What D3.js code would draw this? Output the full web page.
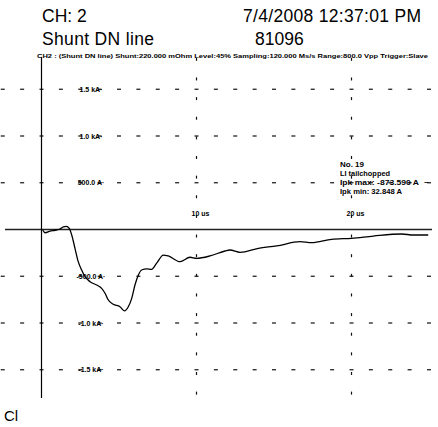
<!DOCTYPE html>
<html lang="en">
<head>
  <meta charset="UTF-8">
  <title>CH 2 Shunt DN line</title>
  <script src="https://cdn.jsdelivr.net/npm/d3@7/dist/d3.min.js"></script>
  <style>
    body { margin: 0; background: #fff; }
    svg { display: block; background: #fff; }
    .big { font-family: "Liberation Sans", Arial, sans-serif; fill: #000; }
    .small { font-family: "Liberation Sans Narrow", "Liberation Sans", Arial, sans-serif; font-weight: bold; fill: #000; }
  </style>
</head>
<body>
<div class="chart"></div>
<script>
  // trace: time in us, current in kA
  const timeUs = [0.08, 0.23, 0.55, 0.87, 1.19, 1.41, 1.6, 1.79, 1.95, 2.16, 2.37, 2.59, 2.81, 3.13, 3.56, 3.88,
    4.10, 4.31, 4.63, 5.06, 5.35, 5.6, 5.82, 6.03, 6.25, 6.46, 6.79, 7.1, 7.43, 7.86, 8.18, 8.94, 9.58, 10.0,
    10.87, 11.84, 12.16, 12.81, 13.99, 15.17, 16.68, 17.43, 18.72, 20.01, 21.41, 23.24, 23.99, 24.95];
  const currentKA = [-0.005, -0.035, -0.018, -0.008, 0.005, 0.028, 0.033, 0.013, -0.059, -0.201, -0.344, -0.433,
    -0.505, -0.558, -0.594, -0.629, -0.682, -0.754, -0.800, -0.826, -0.870, -0.826, -0.736, -0.594, -0.487,
    -0.433, -0.422, -0.426, -0.360, -0.273, -0.283, -0.344, -0.297, -0.308, -0.283, -0.230, -0.219, -0.244,
    -0.201, -0.176, -0.130, -0.141, -0.105, -0.094, -0.070, -0.048, -0.059, -0.059];

  const yTickValues = [1.5, 1.0, 0.5, -0.5, -1.0, -1.5];
  const yTickLabels = ['1.5 kA\u00b7', '1.0 kA\u00b7', '500.0 A\u00b7', '-500.0 A\u00b7', '-1.0 kA\u00b7', '-1.5 kA\u00b7'];
  const xTickValues = [10, 20];
  const xTickLabels = ['10 us', '20 us'];

  const infoLines = ['No. 19', 'LI tailchopped', 'Ipk max: -873.590 A', 'Ipk min:  32.848 A'];
  const infoWidths = [24, 50, 79, 62];

  let chart = {size: {w: 438, h: 427}};

  let x = d3.scaleLinear().domain([0, 20]).range([41.5, 351.5]);
  let y = d3.scaleLinear().domain([0, 1]).range([229.5, 136]);

  let svg = d3.select('.chart').append('svg')
    .attr('width', chart.size.w)
    .attr('height', chart.size.h);

  // header
  svg.append('text').attr('class', 'big').attr('x', 42).attr('y', 22).style('font-size', '17.5px').text('CH: 2');
  svg.append('text').attr('class', 'big').attr('x', 42).attr('y', 45).style('font-size', '17.5px')
    .attr('textLength', 112).text('Shunt DN line');
  svg.append('text').attr('class', 'big').attr('x', 243).attr('y', 22).style('font-size', '17.5px')
    .attr('textLength', 178).text('7/4/2008 12:37:01 PM');
  svg.append('text').attr('class', 'big').attr('x', 255).attr('y', 45).style('font-size', '17.5px').text('81096');
  svg.append('text').attr('class', 'small').attr('x', 37).attr('y', 58).style('font-size', '6px')
    .attr('textLength', 391).attr('lengthAdjust', 'spacingAndGlyphs')
    .text('CH2 : (Shunt DN line)  Shunt:220.000 mOhm  Level:45%  Sampling:120.000 Ms/s  Range:800.0 Vpp  Trigger:Slave');

  // dashed horizontal grid
  let dashT = d3.range(-2.5, 25.1, 1.25);
  yTickValues.forEach(v => {
    svg.append('g').selectAll('line').data(dashT).enter().append('line')
      .attr('x1', d => x(d) - 2).attr('x2', d => x(d) + 2)
      .attr('y1', y(v)).attr('y2', y(v))
      .attr('stroke', '#111').attr('stroke-width', 1.2);
  });

  // dashed vertical grid
  let dashI = d3.range(-1.75, 1.85, 0.21);
  xTickValues.forEach(t => {
    svg.append('g').selectAll('line').data(dashI).enter().append('line')
      .attr('x1', x(t)).attr('x2', x(t))
      .attr('y1', d => y(d) - 1.5).attr('y2', d => y(d) + 1.5)
      .attr('stroke', '#111').attr('stroke-width', 1.2);
  });

  // zero line + vertical axis
  svg.append('line').attr('x1', 5).attr('x2', 432).attr('y1', y(0)).attr('y2', y(0))
    .attr('stroke', '#222').attr('stroke-width', 1.7);
  svg.append('line').attr('x1', x(0)).attr('x2', x(0)).attr('y1', 57).attr('y2', 398)
    .attr('stroke', '#000').attr('stroke-width', 1.2);

  // tick labels
  svg.append('g').selectAll('text').data(yTickValues).enter().append('text')
    .attr('class', 'small').style('font-size', '7px')
    .attr('text-anchor', 'middle')
    .attr('x', 91).attr('y', d => y(d) + 2.5)
    .text((d, i) => yTickLabels[i]);
  svg.append('g').selectAll('text').data(xTickValues).enter().append('text')
    .attr('class', 'small').style('font-size', '7px')
    .attr('text-anchor', 'middle')
    .attr('x', d => x(d) + 4).attr('y', 216)
    .text((d, i) => xTickLabels[i]);

  // annotation block
  svg.append('g').selectAll('text').data(infoLines).enter().append('text')
    .attr('class', 'small').style('font-size', '7.5px')
    .attr('x', 340).attr('y', (d, i) => 167 + i * 9)
    .attr('textLength', (d, i) => infoWidths[i]).attr('lengthAdjust', 'spacingAndGlyphs')
    .text(d => d);
  svg.append('text').attr('class', 'small').style('font-size', '7.5px')
    .attr('x', 424).attr('y', 185).text('~');

  // trace
  let pts = timeUs.map((t, i) => [t, currentKA[i]]);
  let line = d3.line().x(d => x(d[0])).y(d => y(d[1])).curve(d3.curveMonotoneX);
  svg.append('path').datum(pts)
    .attr('d', line)
    .attr('fill', 'none')
    .attr('stroke', '#000')
    .attr('stroke-width', 1.3);

  svg.append('text').attr('class', 'big').attr('x', 4).attr('y', 421).style('font-size', '15px').text('Cl');
</script>
</body>
</html>
